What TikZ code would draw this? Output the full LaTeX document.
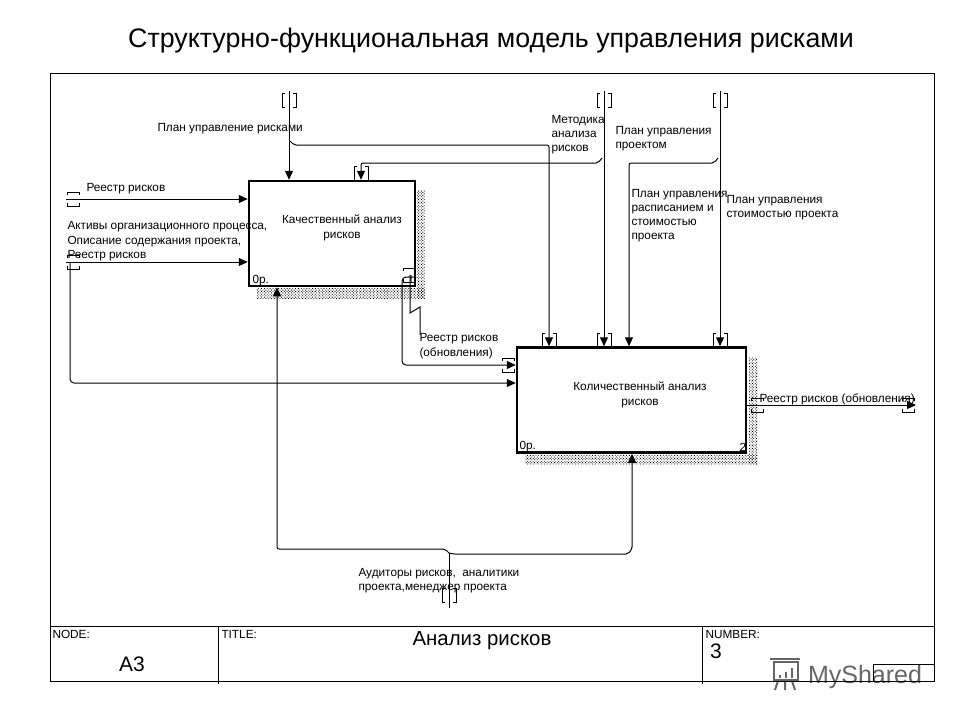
\documentclass[tikz,border=0pt]{standalone}
\usepackage{fontspec}
\setmainfont{Liberation Sans}
\usetikzlibrary{arrows.meta,patterns.meta}
\tikzset{
  >={Triangle[length=9pt,width=8pt]},
  every path/.style={line width=1pt},
  lbl/.style={anchor=west,inner sep=0pt,font=\fontsize{11.8}{11}\selectfont},
  func/.style={draw,line width=2.5pt,minimum height=105pt},
  shade/.style={pattern={Dots[distance=2pt,radius=.6pt,angle=45]},draw=none},
  ftext/.style={inner sep=0pt,align=center,font=\fontsize{11.8}{14.5}\selectfont},
  big/.style={inner sep=0pt,font=\fontsize{21}{21}\selectfont}
}
\newcommand{\tunv}[1]{\draw (#1) ++(-4,-7) -- ++(-3,0) -- ++(0,14) -- ++(3,0) ++(8,-14) -- ++(3,0) -- ++(0,14) -- ++(-3,0);}
\newcommand{\tunh}[1]{\draw (#1) ++(-6,-4) -- ++(0,-3) -- ++(12,0) -- ++(0,3) ++(-12,8) -- ++(0,3) -- ++(12,0) -- ++(0,-3);}
\begin{document}
\begin{tikzpicture}[x=1pt,y=-1pt]
\useasboundingbox (0,0) rectangle (960,720);
\node[inner sep=0pt,font=\fontsize{26.8}{26.8}\selectfont] (title) at (491,41) {Структурно-функциональная модель управления рисками};
\node[inner sep=0pt,font=\fontsize{25}{25}\selectfont,text=black!60] (ms) at (865,677) {MyShared};
\draw[black!60,line width=2pt] (770,659) -- (800,659);
\draw[black!60,line width=2pt] (774,662) rectangle (798,680);
\draw[black!60,line width=2pt] (778,681) -- (775,690) (785,681) -- (785,690) (792,681) -- (795,690);
\draw[black!60,line width=2.5pt] (780,678) -- (780,675) (786,678) -- (786,672) (792,678) -- (792,668);
\draw (50,73) rectangle (934,681);
\coordinate (fl) at (50,626);
\coordinate (fr) at (934,626);
\draw (fl) -- (fr);
\draw (218,626) -- (218,684);
\draw (702,626) -- (702,684);
\draw (873,681) |- (934,664);
\fill[shade] (417,190) rectangle (425,298);
\fill[shade] (257,288) rectangle (425,298);
\fill[shade] (749,357) rectangle (757,464);
\fill[shade] (525,455) rectangle (757,464);
\node[func,minimum width=166pt] (q) at (332,233.5) {};
\node[func,minimum width=229pt] (k) at (631.5,400) {};
\node[ftext] (qt) at (342,228) {Качественный анализ\\рисков};
\node[ftext] (kt) at (640,395) {Количественный анализ\\рисков};
\node[lbl] (q0) at (252,281) {0р.};
\node[lbl] (k0) at (519,447) {0р.};
\node[lbl] (q1) at (407,279) {1};
\node[lbl] (k2) at (739,447) {2};
\coordinate (c1) at (289,91);
\coordinate (c2) at (549,152);
\coordinate (c3) at (604,91);
\coordinate (c4) at (720,91);
\coordinate (c5) at (629,170);
\coordinate (c6) at (361,170);
\coordinate (i1) at (66,199);
\coordinate (i2) at (66,262);
\coordinate (i3) at (70,262);
\coordinate (m1) at (402,277);
\coordinate (o1) at (916,405);
\coordinate (b1) at (449,608);
\coordinate (b2) at (449,553);
\draw[->] (c1) -- (c1 |- q.north);
\draw[->] (c3) -- (c3 |- k.north);
\draw[->] (c4) -- (c4 |- k.north);
\draw[rounded corners=2pt,->] (290,141) -- (294,145) -- (549,145) -- (c2 |- k.north);
\draw[rounded corners=2pt,->] (602,158) -- (598,163) -- (361,163) -- (c6 |- q.north);
\draw[rounded corners=2pt,->] (718,158) -- (714,163) -- (629,163) -- (c5 |- k.north);
\draw[->] (i1) -- (i1 -| q.west);
\draw[->] (i2) -- (i2 -| q.west);
\draw[rounded corners=4pt,->] (i3) -- (70,383) -- (70,383 -| k.west);
\draw[rounded corners=4pt,->] (q.east |- m1) -- (m1) -- (402,365) -- (402,365 -| k.west);
\draw (410,277) -- (410,313) -- (420,307) -- (420,335);
\draw[->] (k.east |- o1) -- (o1);
\draw[rounded corners=2pt,->] (b2) -- (445,549) -- (277,549) -- (277,549 |- q.south);
\draw[rounded corners=2pt,->] (b2) -- (453,554) -- (628,554) -- (632,549) -- (632,549 |- k.south);
\draw (b1) -- (b2);
\tunv{289,100}
\tunv{604,100}
\tunv{720,100}
\tunv{361,173}
\tunv{549,340}
\tunv{604,340}
\tunv{720,340}
\tunv{449,595}
\tunh{73,199}
\tunh{73,262}
\tunh{508,365}
\tunh{409,275}
\tunh{757,405}
\tunh{908,405}
\node[lbl] (l1) at (157,128.5) {План управление рисками};
\node[lbl] (l2) at (86,188.5) {Реестр рисков};
\node[lbl] (l3) at (67,242) {\shortstack[l]{\strut Активы организационного процесса,\\\strut Описание содержания проекта,\\\strut Реестр рисков}};
\node[lbl] (l4) at (419,347) {\shortstack[l]{\strut Реестр рисков\\\strut (обновления)}};
\node[lbl] (l5) at (551,135) {\shortstack[l]{\strut Методика\\\strut анализа\\\strut рисков}};
\node[lbl] (l6) at (615,139) {\shortstack[l]{\strut План управления\\\strut проектом}};
\node[lbl] (l7) at (631,216) {\shortstack[l]{\strut План управления\\\strut расписанием и\\\strut стоимостью\\\strut проекта}};
\node[lbl] (l8) at (726,208) {\shortstack[l]{\strut План управления\\\strut стоимостью проекта}};
\node[lbl] (l9) at (759,399.5) {Реестр рисков (обновления)};
\node[lbl] (l10) at (358,581) {\shortstack[l]{\strut Аудиторы рисков,\ \ аналитики\\\strut проекта,менеджер проекта}};
\node[lbl] (nd) at (52,634) {NODE:};
\node[lbl] (tt) at (221,634) {TITLE:};
\node[lbl] (nb) at (705,634) {NUMBER:};
\node[big] (a3) at (132,664) {А3};
\node[big,font=\fontsize{20.4}{20.4}\selectfont] (an) at (482,641) {Анализ рисков};
\node[big] (n3) at (716,651) {3};
\end{tikzpicture}
\end{document}
